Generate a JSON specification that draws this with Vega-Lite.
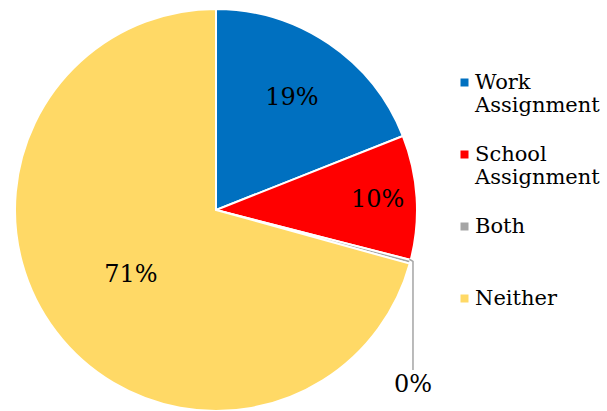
{
  "$schema": "https://vega.github.io/schema/vega-lite/v6.json",
  "width": 432,
  "height": 420,
  "padding": 0,
  "background": "white",
  "view": {"stroke": null},
  "config": {"font": "DejaVu Serif"},
  "datasets": {
    "slices": [
      {"category": "Work Assignment", "value": 19, "order": 1, "label": "19%"},
      {"category": "School Assignment", "value": 10, "order": 2, "label": "10%"},
      {"category": "Both", "value": 0.3, "order": 3, "label": "0%"},
      {"category": "Neither", "value": 70.7, "order": 4, "label": "71%"}
    ],
    "leader": [
      {"x": 0.962, "y": -0.245, "i": 1},
      {"x": 0.98, "y": -0.256, "i": 2},
      {"x": 0.98, "y": -0.796, "i": 3}
    ],
    "leaderLabel": [
      {"x": 0.98, "y": -0.871, "label": "0%"}
    ]
  },
  "layer": [
    {
      "data": {"name": "slices"},
      "transform": [
        {"stack": "value", "groupby": [], "sort": [{"field": "order"}], "as": ["v0", "v1"]}
      ],
      "mark": {"type": "arc", "outerRadius": 201, "stroke": "white", "strokeWidth": 2},
      "encoding": {
        "theta": {"field": "v0", "type": "quantitative", "scale": {"domain": [0, 100], "range": [0, 6.2832]}},
        "theta2": {"field": "v1"},
        "color": {
          "field": "category",
          "type": "nominal",
          "scale": {
            "domain": ["Work Assignment", "School Assignment", "Both", "Neither"],
            "range": ["#0070C0", "#FF0000", "#A5A5A5", "#FFD966"]
          },
          "legend": {
            "orient": "none",
            "legendX": 454,
            "legendY": 72,
            "title": null,
            "symbolType": "square",
            "symbolSize": 64,
            "symbolStrokeWidth": 0,
            "labelFont": "DejaVu Serif",
            "labelFontSize": 21,
            "labelColor": "#000000",
            "labelOffset": 0,
            "labelLimit": 200,
            "rowPadding": 27,
            "labelExpr": "datum.label === 'Both' ? ['Both', ' '] : datum.label === 'Neither' ? ['Neither', ' '] : split(datum.label, ' ')"
          }
        }
      }
    },
    {
      "data": {"name": "slices"},
      "transform": [
        {"stack": "value", "groupby": [], "sort": [{"field": "order"}], "as": ["v0", "v1"]},
        {"calculate": "(datum.v0 + datum.v1) / 2", "as": "mid"},
        {"filter": "datum.category === 'Work Assignment'"}
      ],
      "mark": {"type": "text", "radius": 135, "fontSize": 24, "font": "DejaVu Serif", "color": "#000000"},
      "encoding": {
        "theta": {"field": "mid", "type": "quantitative"},
        "text": {"field": "label"}
      }
    },
    {
      "data": {"name": "slices"},
      "transform": [
        {"stack": "value", "groupby": [], "sort": [{"field": "order"}], "as": ["v0", "v1"]},
        {"calculate": "(datum.v0 + datum.v1) / 2", "as": "mid"},
        {"filter": "datum.category === 'School Assignment'"}
      ],
      "mark": {"type": "text", "radius": 162, "fontSize": 24, "font": "DejaVu Serif", "color": "#000000"},
      "encoding": {
        "theta": {"field": "mid", "type": "quantitative"},
        "text": {"field": "label"}
      }
    },
    {
      "data": {"name": "slices"},
      "transform": [
        {"stack": "value", "groupby": [], "sort": [{"field": "order"}], "as": ["v0", "v1"]},
        {"calculate": "(datum.v0 + datum.v1) / 2", "as": "mid"},
        {"filter": "datum.category === 'Neither'"}
      ],
      "mark": {"type": "text", "radius": 107, "fontSize": 24, "font": "DejaVu Serif", "color": "#000000"},
      "encoding": {
        "theta": {"field": "mid", "type": "quantitative"},
        "text": {"field": "label"}
      }
    },
    {
      "data": {"name": "leader"},
      "mark": {"type": "line", "color": "#A5A5A5", "strokeWidth": 1.5},
      "encoding": {
        "x": {"field": "x", "type": "quantitative", "scale": {"domain": [-1.0746, 1.0746], "nice": false, "zero": false}, "axis": null},
        "y": {"field": "y", "type": "quantitative", "scale": {"domain": [-1.0448, 1.0448], "nice": false, "zero": false}, "axis": null},
        "order": {"field": "i"}
      }
    },
    {
      "data": {"name": "leaderLabel"},
      "mark": {"type": "text", "fontSize": 24, "font": "DejaVu Serif", "color": "#000000"},
      "encoding": {
        "x": {"field": "x", "type": "quantitative"},
        "y": {"field": "y", "type": "quantitative"},
        "text": {"field": "label"}
      }
    }
  ]
}
